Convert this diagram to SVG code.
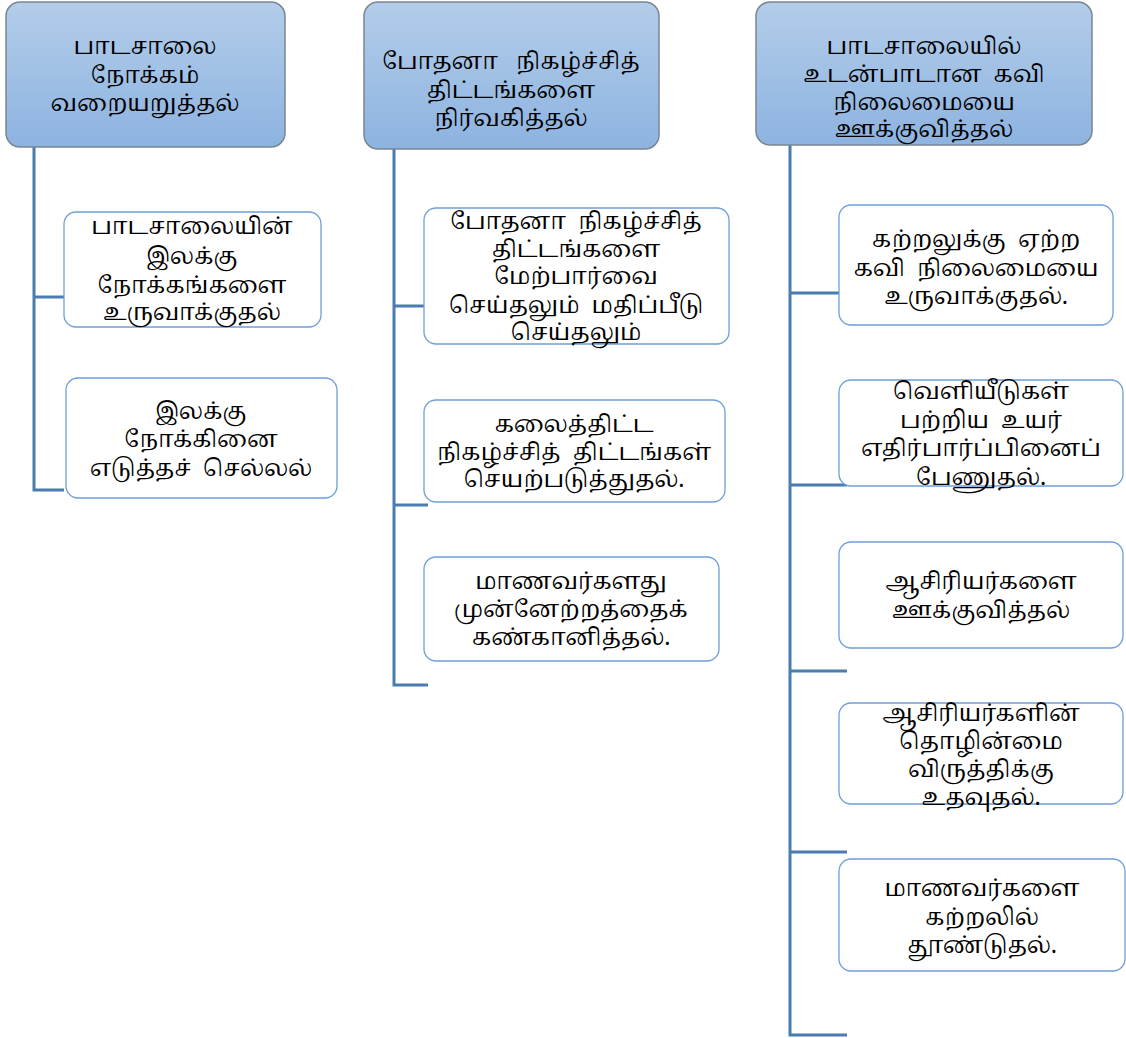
<svg xmlns="http://www.w3.org/2000/svg" width="1126" height="1038" viewBox="0 0 1126 1038">
<style>
.top{stroke:#7a8594;stroke-width:1.5}
.child{fill:#ffffff;stroke:#6f9fd8;stroke-width:1.3}
.conn{fill:none;stroke:#4a7cb0;stroke-width:3}
text{font-family:"Noto Serif Tamil","Noto Sans Tamil","Lohit Tamil","Latha","Noto Sans",sans-serif;font-size:23px;fill:#000;text-anchor:middle;white-space:pre}
</style>
<defs>
<linearGradient id="g" x1="0" y1="0" x2="0" y2="1">
<stop offset="0" stop-color="#b3cdea"/>
<stop offset="1" stop-color="#8db3e0"/>
</linearGradient>
</defs>
<rect width="1126" height="1038" fill="#ffffff"/>
<g id="connectors">
<path class="conn" d="M34 147 V490 H64 M34 297 H64"/>
<path class="conn" d="M394 149 V685 H428 M394 306 H428 M394 505 H428"/>
<path class="conn" d="M790 145 V1035 H847 M790 293 H847 M790 485 H847 M790 671 H847 M790 852 H847"/>
</g>
<g id="n1">
<rect class="top" x="6" y="2" width="279" height="145" rx="14" fill="url(#g)"/>
<text x="145" y="54">பாடசாலை</text>
<text x="145" y="83">நோக்கம்</text>
<text x="145" y="111">வறையறுத்தல்</text>
</g>
<g id="n2">
<rect class="top" x="364" y="2" width="295" height="147" rx="14" fill="url(#g)"/>
<text x="511" y="69">போதனா   நிகழ்ச்சித்</text>
<text x="511" y="98">திட்டங்களை</text>
<text x="511" y="126">நிர்வகித்தல்</text>
</g>
<g id="n3">
<rect class="top" x="756" y="2" width="336" height="143" rx="14" fill="url(#g)"/>
<text x="924" y="54">பாடசாலையில்</text>
<text x="924" y="82">உடன்பாடான  கவி</text>
<text x="924" y="110">நிலைமையை</text>
<text x="924" y="137">ஊக்குவித்தல்</text>
</g>
<g id="c11">
<rect class="child" x="64" y="212" width="257" height="115" rx="12"/>
<text x="192" y="234">பாடசாலையின்</text>
<text x="192" y="264">இலக்கு</text>
<text x="192" y="293">நோக்கங்களை</text>
<text x="192" y="320">உருவாக்குதல்</text>
</g>
<g id="c12">
<rect class="child" x="66" y="378" width="271" height="120" rx="12"/>
<text x="201" y="419">இலக்கு</text>
<text x="201" y="447">நோக்கினை</text>
<text x="201" y="476">எடுத்தச்  செல்லல்</text>
</g>
<g id="c21">
<rect class="child" x="424" y="208" width="305" height="136" rx="12"/>
<text x="576" y="229">போதனா  நிகழ்ச்சித்</text>
<text x="576" y="257">திட்டங்களை</text>
<text x="576" y="284">மேற்பார்வை</text>
<text x="576" y="313">செய்தலும்  மதிப்பீடு</text>
<text x="576" y="340">செய்தலும்</text>
</g>
<g id="c22">
<rect class="child" x="424" y="400" width="301" height="102" rx="12"/>
<text x="574" y="432">கலைத்திட்ட</text>
<text x="574" y="460">நிகழ்ச்சித்  திட்டங்கள்</text>
<text x="574" y="487">செயற்படுத்துதல்.</text>
</g>
<g id="c23">
<rect class="child" x="424" y="557" width="295" height="104" rx="12"/>
<text x="571" y="589">மாணவர்களது</text>
<text x="571" y="617">முன்னேற்றத்தைக்</text>
<text x="571" y="645">கண்கானித்தல்.</text>
</g>
<g id="c31">
<rect class="child" x="839" y="205" width="274" height="120" rx="12"/>
<text x="976" y="247">கற்றலுக்கு  ஏற்ற</text>
<text x="976" y="276">கவி  நிலைமையை</text>
<text x="976" y="304">உருவாக்குதல்.</text>
</g>
<g id="c32">
<rect class="child" x="839" y="380" width="284" height="106" rx="12"/>
<text x="981" y="399">வெளியீடுகள்</text>
<text x="981" y="428">பற்றிய  உயர்</text>
<text x="981" y="456">எதிர்பார்ப்பினைப்</text>
<text x="981" y="485">பேணுதல்.</text>
</g>
<g id="c33">
<rect class="child" x="839" y="542" width="284" height="106" rx="12"/>
<text x="981" y="589">ஆசிரியர்களை</text>
<text x="981" y="618">ஊக்குவித்தல்</text>
</g>
<g id="c34">
<rect class="child" x="839" y="703" width="284" height="101" rx="12"/>
<text x="981" y="721">ஆசிரியர்களின்</text>
<text x="981" y="749">தொழின்மை</text>
<text x="981" y="777">விருத்திக்கு</text>
<text x="981" y="805">உதவுதல்.</text>
</g>
<g id="c35">
<rect class="child" x="839" y="859" width="286" height="112" rx="12"/>
<text x="982" y="896">மாணவர்களை</text>
<text x="982" y="925">கற்றலில்</text>
<text x="982" y="953">தூண்டுதல்.</text>
</g>
</svg>
